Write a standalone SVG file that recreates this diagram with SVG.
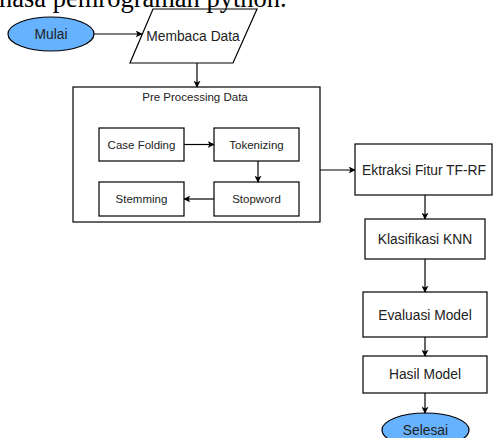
<svg xmlns="http://www.w3.org/2000/svg" width="493" height="438" viewBox="0 0 493 438">
<defs>
<marker id="ah" viewBox="0 0 10 10" refX="9" refY="5" markerWidth="7" markerHeight="7" orient="auto" markerUnits="userSpaceOnUse">
<path d="M0,0 L10,5 L0,10 L2.5,5 Z" fill="#000"/>
</marker>
<style>
.box{fill:#fff;stroke:#000;stroke-width:1.2}
.term{fill:#66B2FF;stroke:#000;stroke-width:1.2}
.t{font-family:"Liberation Sans",Arial,sans-serif;font-size:13.8px;fill:#222;text-anchor:middle}
.s{font-size:11.5px}
.c{fill:none;stroke:#000;stroke-width:1.2;marker-end:url(#ah)}
</style>
</defs>
<rect width="493" height="438" fill="#fff"/>

<g id="mulai"><ellipse class="term" cx="51" cy="34" rx="43" ry="17"/><text class="t" x="51" y="39">Mulai</text></g>
<g id="membaca"><polygon class="box" points="153,9 257,9 233,63 130,63"/><text class="t" x="193" y="41">Membaca Data</text></g>
<g id="preprocessing"><rect class="box" x="73" y="87" width="247" height="135"/><text class="t s" x="195" y="101">Pre Processing Data</text></g>
<g id="casefolding"><rect class="box" x="99" y="128" width="85" height="33"/><text class="t s" x="141.5" y="148.5">Case Folding</text></g>
<g id="tokenizing"><rect class="box" x="214" y="128" width="85" height="33"/><text class="t s" x="256.5" y="148.5">Tokenizing</text></g>
<g id="stopword"><rect class="box" x="214" y="182" width="85" height="34"/><text class="t s" x="256.5" y="203">Stopword</text></g>
<g id="stemming"><rect class="box" x="99" y="182" width="85" height="34"/><text class="t s" x="141.5" y="203">Stemming</text></g>
<g id="ektraksi"><rect class="box" x="355" y="144" width="137" height="51"/><text class="t" x="424" y="174.5">Ektraksi Fitur TF-RF</text></g>
<g id="klasifikasi"><rect class="box" x="365" y="219" width="120" height="40"/><text class="t" x="425" y="244">Klasifikasi KNN</text></g>
<g id="evaluasi"><rect class="box" x="363" y="292" width="124" height="45"/><text class="t" x="425" y="319.5">Evaluasi Model</text></g>
<g id="hasil"><rect class="box" x="363" y="356" width="124" height="37"/><text class="t" x="425" y="379">Hasil Model</text></g>
<g id="selesai"><ellipse class="term" cx="425.5" cy="430" rx="43.5" ry="17"/><text class="t" x="425.5" y="434.5">Selesai</text></g>

<g id="connectors">
<line class="c" x1="94" y1="34" x2="142" y2="34"/>
<line class="c" x1="197" y1="63" x2="197" y2="87"/>
<line class="c" x1="184" y1="144.5" x2="214" y2="144.5"/>
<line class="c" x1="258" y1="161" x2="258" y2="182"/>
<line class="c" x1="214" y1="199" x2="184" y2="199"/>
<line class="c" x1="320" y1="170" x2="355" y2="170"/>
<line class="c" x1="425" y1="195" x2="425" y2="219"/>
<line class="c" x1="425" y1="259" x2="425" y2="292"/>
<line class="c" x1="425" y1="337" x2="425" y2="356"/>
<line class="c" x1="425" y1="393" x2="425" y2="413"/>
</g>
<text x="-1" y="6.5" font-family="Liberation Serif,Times New Roman,serif" font-size="26.5" fill="#000">nasa pemrograman python.</text>
</svg>
